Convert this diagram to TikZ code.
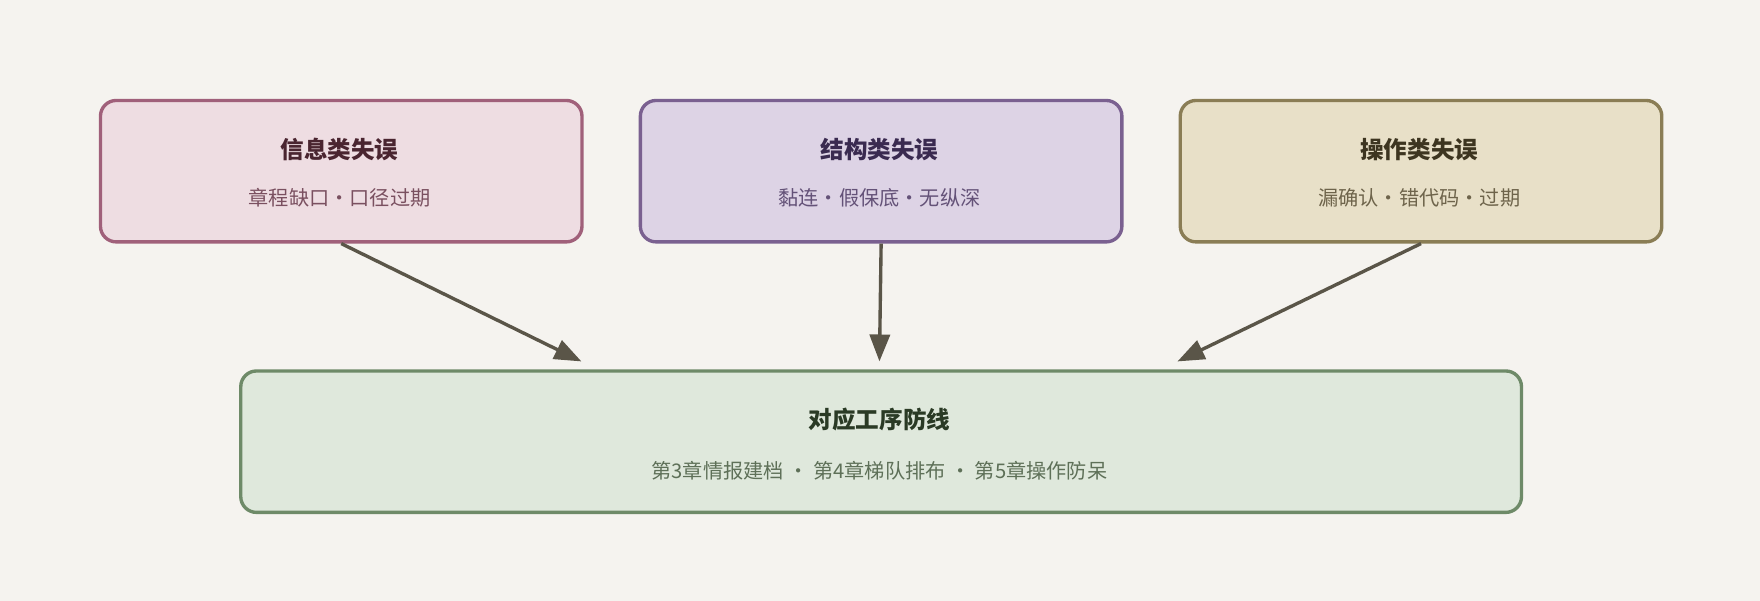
\documentclass[tikz,border=0pt]{standalone}
\usepackage{fontspec}
\setmainfont{Noto Sans CJK SC}
\usetikzlibrary{arrows.meta}
\definecolor{bg}{HTML}{F5F3EF}
\definecolor{arr}{HTML}{5A5548}
\definecolor{f1}{HTML}{EEDDE2}\definecolor{d1}{HTML}{A0607A}\definecolor{ta}{HTML}{4A2530}\definecolor{sa}{HTML}{7A5060}
\definecolor{f2}{HTML}{DDD3E5}\definecolor{d2}{HTML}{7A6090}\definecolor{tb}{HTML}{3A2A50}\definecolor{sb}{HTML}{645278}
\definecolor{f3}{HTML}{E8E0C8}\definecolor{d3}{HTML}{8A7D55}\definecolor{tc}{HTML}{3D3520}\definecolor{sc}{HTML}{6E644B}
\definecolor{f4}{HTML}{DFE8DC}\definecolor{d4}{HTML}{6E8A68}\definecolor{td}{HTML}{2A3A25}\definecolor{sd}{HTML}{5E7058}
\begin{document}
\begin{tikzpicture}[x=1pt,y=-1pt,
 box/.style={draw, line width=3pt, rounded corners=14pt, minimum width=429pt, minimum height=126pt, anchor=north west},
 conn/.style={draw=arr, line width=3pt, -{Triangle[length=24pt,width=18pt]}},
 t/.style={font=\fontsize{21}{24}\selectfont\bfseries}, s/.style={font=\fontsize{18}{22}\selectfont}]
\useasboundingbox[fill=bg] (0,0) rectangle (1568,535);
\node[box, fill=f1, draw=d1] (b1) at (88,88) {};
\node[box, fill=f2, draw=d2] (b2) at (569,88) {};
\node[box, fill=f3, draw=d3] (b3) at (1050,88) {};
\node[box, minimum width=1141pt, fill=f4, draw=d4] (b4) at (213,329) {};
\node[t, text=ta] (t1) at (302.5,133) {信息类失误};
\node[s, text=sa] (s1) at (302.5,176) {章程缺口·口径过期};
\node[t, text=tb] (t2) at (783.5,133) {结构类失误};
\node[s, text=sb] (s2) at (783.5,176) {黏连·假保底·无纵深};
\node[t, text=tc] (t3) at (1264.5,133) {操作类失误};
\node[s, text=sc] (s3) at (1264.5,176) {漏确认·错代码·过期};
\node[t, text=td] (t4) at (783.5,374) {对应工序防线};
\node[s, text=sd] (s4) at (783.5,419) {第3章情报建档 · 第4章梯队排布 · 第5章操作防呆};
\coordinate (e1) at (518,322);
\coordinate (e2) at (783.5,322);
\coordinate (e3) at (1049,322);
\draw[conn] (b1.south) -- (e1);
\draw[conn] (b2.south) -- (e2);
\draw[conn] (b3.south) -- (e3);
\end{tikzpicture}
\end{document}
